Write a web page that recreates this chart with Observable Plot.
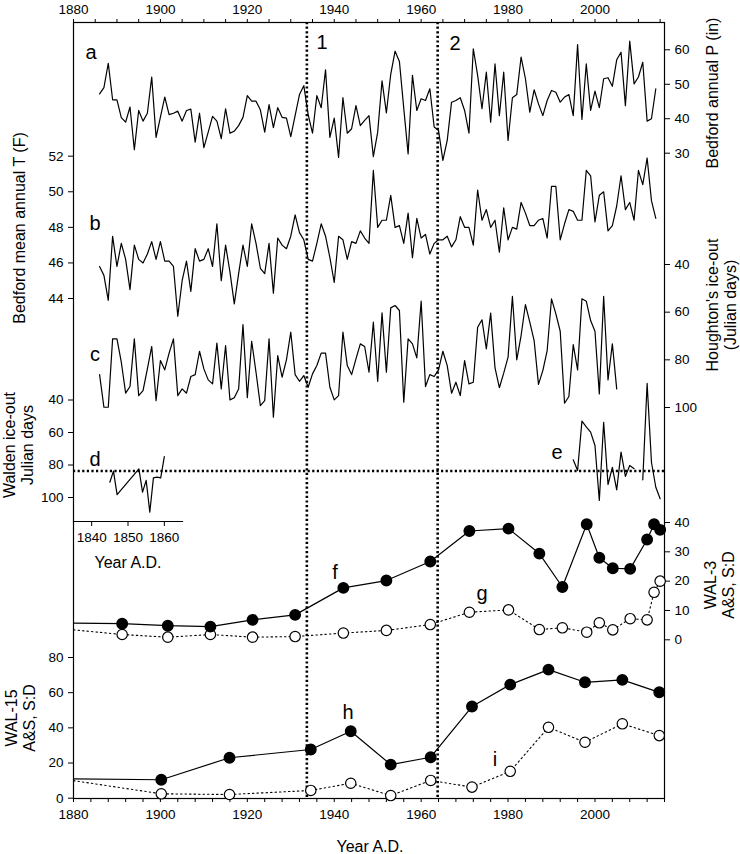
<!DOCTYPE html>
<html><head><meta charset="utf-8">
<script src="https://cdn.jsdelivr.net/npm/d3@7"></script>
<script src="https://cdn.jsdelivr.net/npm/@observablehq/plot@0.6"></script>
<style>
body{margin:0;background:#fff;}
#chart{position:relative;width:740px;height:854px;font-family:"Liberation Sans",Arial,sans-serif;color:#000;overflow:hidden;}
#chart svg{position:absolute;left:0;top:0;}
.lbl{position:absolute;white-space:nowrap;font-size:16px;line-height:18px;transform:translate(-50%,-50%);text-align:center;}
.rot{transform:translate(-50%,-50%) rotate(-90deg);}
.let{font-size:20px;}
</style></head><body><div id="chart"></div>
<script>
// ---------- DATA ----------
const annualStart = 1886;
// a: Bedford annual precipitation (in), 1886-2014
const precipIn = [47.2,49.0,56.1,45.5,45.5,40.3,39.0,43.4,31.0,42.4,
39.3,41.6,52.1,34.6,40.5,46.3,41.2,41.6,42.2,39.3,
42.4,42.8,33.2,41.6,31.6,36.1,40.7,39.3,34.2,42.9,
35.8,36.4,38.0,40.4,46.7,45.1,45.1,42.6,36.1,44.1,
37.4,43.2,40.4,40.2,34.8,40.9,47.0,49.6,41.2,35.8,
46.7,43.2,54.2,34.6,40.2,28.8,46.1,35.8,37.1,43.8,
38.0,39.5,40.9,29.0,36.1,51.0,41.7,52.9,59.6,56.6,
43.0,29.8,52.6,42.4,45.8,45.3,48.7,37.6,36.6,27.9,
33.7,44.8,45.3,46.1,42.4,35.8,60.3,52.6,42.9,53.5,
39.0,55.9,40.9,53.5,33.7,46.1,47.0,57.9,51.6,41.9,
48.4,44.3,40.9,45.3,48.2,47.7,44.8,46.3,47.0,40.9,
61.5,39.8,55.9,42.4,48.0,43.2,51.6,51.9,49.4,57.1,
59.3,43.8,62.5,50.1,52.1,56.4,39.3,40.0,48.7];
// b: Bedford mean annual temperature (F), 1886-2014
const tempF = [45.8,45.3,43.9,47.5,45.8,47.1,46.2,44.5,47.0,46.2,
46.0,46.5,47.2,46.2,47.2,46.1,46.1,45.8,43.0,45.0,
46.1,44.4,46.8,46.1,46.2,46.8,45.8,48.2,45.0,47.0,
45.5,43.7,45.4,47.0,45.8,48.2,47.1,45.7,45.4,47.1,
44.3,47.4,47.0,46.8,47.5,48.7,47.7,47.3,46.2,46.1,
47.1,48.2,47.5,46.3,44.9,47.5,47.3,46.2,47.2,47.1,
47.8,47.4,47.1,51.2,48.0,48.4,48.4,49.8,48.0,48.1,
47.1,48.8,46.3,48.5,47.4,47.6,46.5,47.1,47.3,47.3,
47.5,46.9,47.3,48.6,48.0,48.0,47.0,50.1,48.4,49.0,
48.0,48.4,46.6,49.1,47.3,48.0,47.9,49.4,48.8,48.1,
48.1,48.4,48.5,47.4,50.3,50.3,47.3,48.2,49.0,48.9,
48.4,48.4,51.2,50.9,48.3,49.8,50.0,47.8,48.1,49.2,
50.9,49.0,49.4,48.4,51.2,50.4,51.9,49.5,48.5];
// c: Houghton's ice-out (Julian days), 1886-2005
const houghtonDays = [86.2,99.9,99.9,71.2,71.2,81.0,94.0,91.2,71.2,95.0,
92.9,83.8,74.4,97.1,80.3,84.2,77.2,71.2,95.0,92.2,
94.0,87.0,86.2,76.4,83.8,88.4,90.1,73.0,92.2,74.0,
96.8,95.9,92.2,65.2,95.9,72.2,85.2,99.2,97.1,71.2,
104.1,78.2,87.3,80.0,68.4,86.2,89.0,86.6,91.5,85.9,
82.4,77.2,77.2,91.5,96.8,95.0,68.4,82.4,86.2,79.6,
73.3,74.4,85.2,64.2,89.0,60.3,85.2,58.2,57.2,59.3,
97.8,71.2,73.3,79.2,55.4,91.2,86.2,87.0,84.2,76.4,
82.4,94.0,89.4,95.0,80.3,90.1,89.4,66.3,63.2,75.4,
60.4,83.4,91.7,85.6,78.9,53.4,80.0,69.8,56.8,64.2,
71.9,90.3,84.5,76.1,54.4,60.7,68.0,98.2,95.4,73.6,
84.2,54.4,55.4,63.5,68.0,94.3,53.4,88.4,73.3,92.2];
// d: Walden ice-out (Thoreau era)
const waldenOldYears = [1845,1846,1847,1853,1854,1855,1856,1857,1858,1859,1860];
const waldenOldDays  = [90.6,83.8,98.2,82.4,96.7,89.5,109,87.9,87.5,87.9,74.8];
// e: Walden ice-out (recent)
const waldenNewYears = [1995,1996,1997,1998,1999,2000,2001,2002,2003,2004,2005,2006,2007,2008,2009,2010,2011,2012,2013,2014,2015];
const waldenNewDays  = [76.8,83.4,53.0,56.5,59.8,68.0,101.8,53.7,92.0,81.4,95.3,72.1,87.0,80.3,82.3,null,89.1,29.8,78.3,93.7,100.8];
const waldenMeanDays = 83.7;
// f, g: WAL-3 core
const wal3Years = [1891.2,1901.7,1911.5,1921.2,1931,1942.1,1952,1962.1,1971.1,1980.1,1987.2,1992.5,1998.1,2001,2004.1,2008.1,2012,2013.6,2015];
const wal3AS    = [5.5,4.8,4.5,6.8,8.5,17.7,20.2,26.7,37.1,37.9,29.4,18.0,39.4,28.0,24.4,24.2,34.2,39.4,37.5];
const wal3SD    = [1.8,0.9,1.8,0.9,1.1,2.3,3.2,5.2,9.4,10.2,3.5,4.1,2.6,5.8,3.4,7.2,6.8,16.2,20.0];
const wal3EdgeYear = 1880, wal3ASEdge = 5.7, wal3SDEdge = 3.4;
// h, i: WAL-15 core
const wal15Years = [1900.2,1915.9,1934.6,1943.8,1953,1962.2,1971.7,1980.5,1989.3,1997.7,2006.3,2014.8];
const wal15AS    = [10.5,23.0,27.7,38.1,19.1,23.3,52.1,64.6,73.1,65.9,67.3,60.2];
const wal15SD    = [2.5,2.1,4.4,8.5,1.5,10.1,6.3,15.3,40.3,31.8,42.3,35.6];
const wal15EdgeYear = 1880, wal15ASEdge = 11.0, wal15SDEdge = 10.0;
// vertical boundaries 1 and 2
const breakYears = [1933.7, 1963.8];
// tick values
const topTicks = d3.range(1880, 2016, 5);
const bottomTicks = d3.range(1880, 2017, 4);
const precipTicks = [30,40,50,60];
const tempTicks = [44,46,48,50,52];
const houghtonTicks = [40,60,80,100];
const waldenTicks = [40,60,80,100];
const insetTicks = [1840,1850,1860];
const wal3Ticks = [0,10,20,30,40];
const wal15Ticks = [0,20,40,60,80];

// ---------- BUILD ----------
const series = (vals, start) => vals.map((v,i)=>({year:start+i, v}));
const pairs = (ys, vs) => ys.map((y,i)=>({year:y, v:vs[i]}));

const W=740,H=854;
const base = {width:W,height:H,marginLeft:73,marginRight:76,marginTop:22,marginBottom:56,
  style:{background:"transparent",fontFamily:"Liberation Sans, Arial, sans-serif",fontSize:"13.5px",overflow:"visible"}};
const xs = {domain:[1880,2016], axis:null};
const chart = document.getElementById("chart");
function add(opts){ chart.appendChild(Plot.plot({...base, ...opts})); }
const ln = {x:"year", y:"v", stroke:"black", strokeWidth:1.2};
const dash = {x:"year", y:"v", stroke:"black", strokeWidth:1.1, strokeDasharray:"1.5,3"};
const yearFmt = d => String(d);

// frame + x axes + boundaries
add({x:xs, marks:[
  Plot.frame({stroke:"black", strokeWidth:1.2}),
  Plot.axisX({anchor:"top", ticks:topTicks, tickFormat:d=>d%20===0?String(d):"", tickSize:4, tickPadding:5, label:null}),
  Plot.axisX({anchor:"bottom", ticks:bottomTicks, tickFormat:d=>d%20===0?String(d):"", tickSize:4, tickPadding:7, label:null}),
  Plot.ruleX(breakYears, {stroke:"black", strokeWidth:2.6, strokeDasharray:"2.2,2.4"})
]});
// a precip
add({x:xs, y:{domain:[30,60], range:[152.7,49.3], axis:null}, marks:[
  Plot.lineY(series(precipIn, annualStart), ln),
  Plot.axisY({anchor:"right", ticks:precipTicks, tickSize:5, tickPadding:5, label:null})
]});
// b temp
add({x:xs, y:{domain:[44,52], range:[298,155.7], axis:null}, marks:[
  Plot.lineY(series(tempF, annualStart), ln),
  Plot.axisY({anchor:"left", ticks:tempTicks, tickSize:5, tickPadding:5, label:null})
]});
// c houghton
add({x:xs, y:{domain:[40,100], range:[264,407], axis:null}, marks:[
  Plot.lineY(series(houghtonDays, annualStart), ln),
  Plot.axisY({anchor:"right", ticks:houghtonTicks, tickSize:5, tickPadding:5, label:null})
]});
// e walden recent + mean line
add({x:xs, y:{domain:[40,100], range:[399.5,497], axis:null}, marks:[
  Plot.ruleY([waldenMeanDays], {stroke:"black", strokeWidth:2.6, strokeDasharray:"2.2,2.4"}),
  Plot.lineY(pairs(waldenNewYears, waldenNewDays), ln),
  Plot.axisY({anchor:"left", ticks:waldenTicks, tickSize:5, tickPadding:5, label:null})
]});
// d inset
add({marginLeft:73, marginRight:558, marginTop:0, marginBottom:333,
  x:{domain:[1835,1865], axis:null}, y:{domain:[40,100], range:[399.5,497], axis:null}, marks:[
  Plot.lineY(pairs(waldenOldYears, waldenOldDays), ln),
  Plot.frame({anchor:"bottom", stroke:"black", strokeWidth:1.2}),
  Plot.axisX({anchor:"bottom", ticks:insetTicks, tickFormat:yearFmt, tickSize:5, tickPadding:6, label:null})
]});
// f g
add({x:xs, y:{domain:[0,40], range:[639.3,522], axis:null}, marks:[
  Plot.lineY([{year:wal3EdgeYear, v:wal3SDEdge}, ...pairs(wal3Years, wal3SD)], dash),
  Plot.lineY([{year:wal3EdgeYear, v:wal3ASEdge}, ...pairs(wal3Years, wal3AS)], ln),
  Plot.dot(pairs(wal3Years, wal3SD), {x:"year", y:"v", r:5.2, fill:"white", stroke:"black", strokeWidth:1.2}),
  Plot.dot(pairs(wal3Years, wal3AS), {x:"year", y:"v", r:5.2, fill:"black", stroke:"black"}),
  Plot.axisY({anchor:"right", ticks:wal3Ticks, tickSize:5, tickPadding:5, label:null})
]});
// h i
add({x:xs, y:{domain:[0,80], range:[797.7,657], axis:null}, marks:[
  Plot.lineY([{year:wal15EdgeYear, v:wal15SDEdge}, ...pairs(wal15Years, wal15SD)], dash),
  Plot.lineY([{year:wal15EdgeYear, v:wal15ASEdge}, ...pairs(wal15Years, wal15AS)], ln),
  Plot.dot(pairs(wal15Years, wal15SD), {x:"year", y:"v", r:5.2, fill:"white", stroke:"black", strokeWidth:1.2}),
  Plot.dot(pairs(wal15Years, wal15AS), {x:"year", y:"v", r:5.2, fill:"black", stroke:"black"}),
  Plot.axisY({anchor:"left", ticks:wal15Ticks, tickSize:5, tickPadding:5, label:null})
]});

// ---------- TEXT ----------
const labels = [
  {t:"Bedford annual P (in)", x:713, y:93, rot:true},
  {t:"Bedford mean annual T (F)", x:20, y:228, rot:true},
  {t:"Houghton's ice-out<br>(Julian days)", x:722, y:305, rot:true},
  {t:"Walden ice-out<br>Julian days", x:19, y:445, rot:true},
  {t:"WAL-3<br>A&amp;S, S:D", x:720, y:585, rot:true},
  {t:"WAL-15<br>A&amp;S, S:D", x:21, y:718, rot:true},
  {t:"Year A.D.", x:370, y:847},
  {t:"Year A.D.", x:128, y:563},
  {t:"a", x:91, y:52, c:"let"}, {t:"b", x:95, y:223, c:"let"}, {t:"c", x:95, y:354, c:"let"},
  {t:"d", x:95, y:459, c:"let"}, {t:"e", x:557, y:452, c:"let"}, {t:"f", x:335, y:572, c:"let"},
  {t:"g", x:482, y:593, c:"let"}, {t:"h", x:348, y:712, c:"let"}, {t:"i", x:495, y:759, c:"let"},
  {t:"1", x:322, y:42, c:"let"}, {t:"2", x:455, y:43, c:"let"}
];
for (const l of labels) {
  const d = document.createElement("div");
  d.className = "lbl" + (l.rot ? " rot" : "") + (l.c ? " " + l.c : "");
  d.style.left = l.x + "px"; d.style.top = l.y + "px";
  d.innerHTML = l.t;
  chart.appendChild(d);
}
</script>
</body></html>
